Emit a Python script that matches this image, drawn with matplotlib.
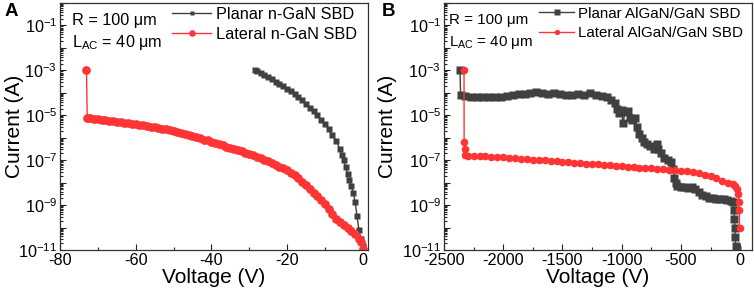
import numpy as np
import matplotlib
matplotlib.use("Agg")
import matplotlib.pyplot as plt
from matplotlib.ticker import LogLocator, FuncFormatter, MultipleLocator, NullFormatter

plt.rcParams['font.family'] = ['Liberation Sans', 'DejaVu Sans']
plt.rcParams['mathtext.fontset'] = 'custom'
plt.rcParams['mathtext.rm'] = 'Liberation Sans'
plt.rcParams['mathtext.it'] = 'Liberation Sans:italic'
plt.rcParams['mathtext.bf'] = 'Liberation Sans:bold'
plt.rcParams['axes.unicode_minus'] = False

# ---------------- Panel A data (log10 of current) ----------------
planar_a_v = [-28.5, -28, -27, -26, -25, -24, -23, -22, -21, -20, -19, -18, -17, -16,
              -15, -14, -13, -12, -11, -10, -9, -8, -7, -6, -5.5, -5, -4.5, -4,
              -3.5, -3, -2.5, -2, -1.5, -1, -0.5, 0]
planar_a_logi = [-2.98, -3.02, -3.1, -3.2, -3.3, -3.4, -3.5, -3.6, -3.7, -3.82, -3.94,
                 -4.06, -4.2, -4.34, -4.5, -4.66, -4.83, -5.0, -5.2, -5.4, -5.62, -5.88,
                 -6.15, -6.5, -6.75, -7.0, -7.3, -7.6, -7.9, -8.15, -8.45, -8.85, -9.5,
                 -10.1, -10.5, -10.8]

lateral_a_v = [-73, -72.8, -72, -71, -70, -69, -68, -67, -66, -65, -64, -63, -62, -61,
               -60, -59, -58, -57, -56, -55, -54, -53, -52, -51, -50, -49, -48, -47,
               -46, -45, -44, -43, -42, -41, -40, -39, -38, -37, -36, -35, -34, -33,
               -32, -31, -30, -29, -28, -27, -26, -25, -24, -23, -22, -21, -20, -19,
               -18, -17, -16, -15, -14, -13, -12, -11, -10, -9, -8, -7, -6, -5, -4,
               -3, -2, -1, -0.5, 0]
lateral_a_logi = [-3.0, -5.12, -5.14, -5.16, -5.18, -5.2, -5.22, -5.24, -5.26, -5.28,
                  -5.3, -5.33, -5.36, -5.38, -5.4, -5.43, -5.45, -5.48, -5.5, -5.53,
                  -5.56, -5.59, -5.62, -5.66, -5.7, -5.74, -5.79, -5.83, -5.88, -5.93,
                  -5.98, -6.03, -6.08, -6.12, -6.17, -6.22, -6.28, -6.34, -6.4, -6.45,
                  -6.5, -6.56, -6.61, -6.67, -6.72, -6.78, -6.84, -6.91, -6.98, -7.05,
                  -7.13, -7.21, -7.29, -7.37, -7.45, -7.55, -7.66, -7.8, -7.95, -8.1,
                  -8.27, -8.44, -8.6, -8.78, -8.97, -9.18, -9.4, -9.6, -9.75, -9.88,
                  -10.0, -10.15, -10.3, -10.5, -10.65, -10.95]

# ---------------- Panel B data (log10 of current) ----------------
planar_b_v = [-2365, -2360, -2320, -2270, -2220, -2170, -2120, -2070, -2020, -1970, -1920,
              -1870, -1820, -1770, -1720, -1670, -1620, -1570, -1520, -1470, -1420, -1370,
              -1320, -1270, -1220, -1170, -1120, -1090, -1060, -1040, -1020, -1000, -990,
              -970, -950, -930, -910, -890, -870, -850, -830, -810, -790, -760, -730, -700,
              -690, -670, -640, -610, -580, -565, -555, -545, -530, -500, -470, -440, -410,
              -380, -350, -320, -290, -260, -230, -200, -170, -140, -110, -80, -60, -52,
              -48, -45, -42, -38, -30]
planar_b_logi = [-3.0, -4.1, -4.15, -4.17, -4.18, -4.2, -4.2, -4.18, -4.17, -4.13, -4.1,
                 -4.05, -4.05, -4.0, -3.97, -4.03, -4.05, -4.03, -4.06, -4.08, -4.1, -4.06,
                 -4.08, -4.03, -4.08, -4.12, -4.2, -4.3, -4.45, -4.7, -4.9, -4.75, -5.35,
                 -4.85, -4.8, -5.1, -5.2, -5.1, -5.5, -5.85, -6.0, -6.2, -6.3, -6.35, -6.5,
                 -6.3, -6.5, -6.7, -6.9, -7.0, -7.1, -7.4, -7.8, -8.0, -8.15, -8.2, -8.2,
                 -8.25, -8.2, -8.3, -8.4, -8.55, -8.6, -8.68, -8.7, -8.72, -8.74, -8.75,
                 -8.77, -8.8, -8.85, -9.2, -9.6, -10.0, -10.4, -10.8, -11.0]

lateral_b_v = [-2331, -2330, -2325, -2320, -2300, -2250, -2200, -2150, -2100, -2050, -2000,
               -1950, -1900, -1850, -1800, -1750, -1700, -1650, -1600, -1550, -1500, -1450,
               -1400, -1350, -1300, -1250, -1200, -1150, -1100, -1050, -1000, -950, -900,
               -850, -800, -750, -700, -650, -600, -550, -500, -450, -400, -350, -300, -250,
               -200, -150, -100, -60, -40, -25, -15, -10, -8, -5]
lateral_b_logi = [-3.0, -6.2, -6.5, -6.75, -6.8, -6.8, -6.81, -6.82, -6.84, -6.85, -6.87,
                  -6.89, -6.91, -6.93, -6.95, -6.97, -6.99, -7.01, -7.03, -7.05, -7.07,
                  -7.09, -7.11, -7.13, -7.15, -7.17, -7.19, -7.21, -7.23, -7.25, -7.27,
                  -7.29, -7.31, -7.33, -7.35, -7.37, -7.39, -7.41, -7.43, -7.45, -7.47,
                  -7.5, -7.53, -7.58, -7.64, -7.72, -7.81, -7.91, -8.0, -8.07, -8.14, -8.3,
                  -8.5, -8.87, -9.2, -10.0]

GRAY = '#404040'
RED = '#ff3535'
FS = 11.7

fig = plt.figure(figsize=(7.54, 2.95), dpi=100)
axA = fig.add_axes([60/754, 45/295, 308/754, 247/295])
axB = fig.add_axes([444/754, 45/295, 308/754, 247/295])


def odd_fmt(y, pos):
    e = int(round(np.log10(y)))
    if e % 2 != 0:
        return r'$\mathregular{10^{%d}}$' % e
    return ''


def style(ax, ylab_x):
    ax.set_yscale('log')
    ax.set_ylim(1e-11, 1.0)
    ax.yaxis.set_major_locator(LogLocator(base=10, numticks=20))
    ax.yaxis.set_minor_locator(LogLocator(base=10, subs=np.arange(2, 10), numticks=20))
    ax.yaxis.set_major_formatter(FuncFormatter(odd_fmt))
    ax.yaxis.set_minor_formatter(NullFormatter())
    ax.tick_params(which='both', direction='in', labelsize=FS, top=False, right=False,
                   width=0.8, colors='#222222', labelcolor='black')
    ax.tick_params(which='major', length=4.5, pad=2)
    ax.tick_params(which='minor', length=2.5)
    for s in ax.spines.values():
        s.set_color('#333333')
        s.set_linewidth(0.9)
    ax.set_xlabel('Voltage (V)', fontsize=15, labelpad=0)
    ax.set_ylabel('Current (A)', fontsize=15)
    ax.yaxis.set_label_coords(ylab_x, 0.5)


# Panel A
axA.plot(planar_a_v, np.power(10.0, planar_a_logi), '-s', color=GRAY, ms=4.5, lw=1.0,
         mec='none', label='Planar n-GaN SBD')
axA.plot(lateral_a_v, np.power(10.0, lateral_a_logi), '-o', color=RED, ms=6.3, lw=1.0,
         mec='none', label='Lateral n-GaN SBD')
axA.set_xlim(-80, 1.4)
axA.xaxis.set_major_locator(MultipleLocator(20))
axA.xaxis.set_minor_locator(MultipleLocator(10))
style(axA, -0.118)
axA.legend(loc='upper left', bbox_to_anchor=(0.365, 0.985), frameon=False, fontsize=FS,
           handlelength=2.4, handletextpad=0.3, labelspacing=0.3, borderpad=0,
           borderaxespad=0, markerscale=0.75)
axA.text(0.04, 0.93, 'R = 100 μm', transform=axA.transAxes, fontsize=FS, va='center')
axA.text(0.04, 0.84, r'L$_{\mathregular{AC}}$ = 40 μm', transform=axA.transAxes,
         fontsize=FS, va='center')

# Panel B
FSB = 10.9
axB.plot(planar_b_v, np.power(10.0, planar_b_logi), '-s', color=GRAY, ms=5.5, lw=1.0,
         mec='none', label='Planar AlGaN/GaN SBD')
axB.plot(lateral_b_v, np.power(10.0, lateral_b_logi), '-o', color=RED, ms=5.5, lw=1.0,
         mec='none', label='Lateral AlGaN/GaN SBD')
axB.set_xlim(-2500, 100)
axB.xaxis.set_major_locator(MultipleLocator(500))
axB.xaxis.set_minor_locator(MultipleLocator(250))
style(axB, -0.153)
axB.legend(loc='upper left', bbox_to_anchor=(0.31, 0.985), frameon=False, fontsize=FSB,
           handlelength=2.3, handletextpad=0.25, labelspacing=0.35, borderpad=0,
           borderaxespad=0, markerscale=0.7)
axB.text(0.015, 0.93, 'R = 100 μm', transform=axB.transAxes, fontsize=FSB, va='center')
axB.text(0.015, 0.84, r'L$_{\mathregular{AC}}$ = 40 μm', transform=axB.transAxes,
         fontsize=FSB, va='center')

fig.text(5/754, 1 - 11/295, 'A', fontsize=13.5, fontweight='bold', va='center')
fig.text(382/754, 1 - 11/295, 'B', fontsize=13.5, fontweight='bold', va='center')

fig.savefig('out.png', dpi=100)
